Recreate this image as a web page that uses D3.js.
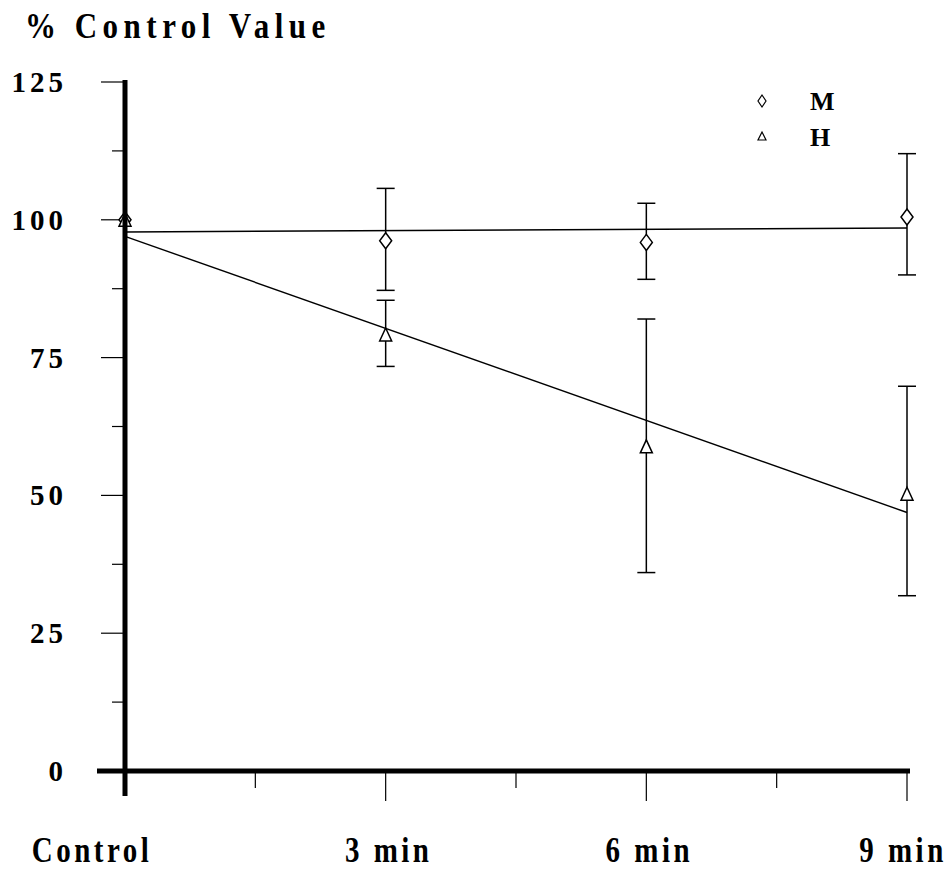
<!DOCTYPE html>
<html>
<head>
<meta charset="utf-8">
<script src="https://cdn.jsdelivr.net/npm/d3@7"></script>
<style>
  html, body { margin: 0; padding: 0; background: #fff; }
  svg { display: block; }
</style>
</head>
<body>
<svg id="chart" width="951" height="887"></svg>
<script>
// ---- data ----
const categories = ["Control", "3 min", "6 min", "9 min"];
const yTicks = [0, 25, 50, 75, 100, 125];
const yMinorTicks = [12.5, 37.5, 62.5, 87.5, 112.5];

const mMean = [100, 96.2, 95.9, 100.5];
const mLow  = [100, 87.2, 89.2, 90.0];
const mHigh = [100, 105.7, 103.0, 112.0];

const hMean = [100, 79.2, 58.9, 50.3];
const hLow  = [100, 73.4, 36.0, 31.8];
const hHigh = [100, 85.4, 82.0, 69.8];

// regression lines (value at Control and at 9 min)
const fitEnds = ["Control", "9 min"];
const mFit = [97.8, 98.5];
const hFit = [97.0, 46.9];

const legendLabels = ["M", "H"];

// ---- layout ----
const FONT = "'Liberation Serif', Tinos, 'Times New Roman', 'DejaVu Serif', serif";
const svg = d3.select("#chart");
const x = d3.scalePoint().domain(categories).range([125, 907]);
const y = d3.scaleLinear().domain([0, 125]).range([771, 82]);

function txt(sel, size, ls) {
  return sel.attr("font-family", FONT).attr("font-weight", "bold")
    .attr("font-size", size).attr("letter-spacing", ls).attr("fill", "#000");
}

// title
txt(svg.append("text").attr("transform", "translate(25,38) scale(1,1.13)"), 31, 5.5)
  .text("% Control Value");

// y tick labels
txt(svg.append("g").selectAll("text").data(yTicks).join("text"), 29, 4)
  .attr("transform", d => `translate(67,${y(d) + 10}) scale(1,1.05)`)
  .attr("text-anchor", "end")
  .text(d => d);

// y ticks
const yAxisG = svg.append("g");
yAxisG.selectAll("line.maj").data(yTicks).join("line").attr("class", "maj")
  .attr("x1", 101).attr("x2", 125).attr("y1", d => y(d)).attr("y2", d => y(d))
  .attr("stroke", "#000").attr("stroke-width", 1.2);
yAxisG.selectAll("line.min").data(yMinorTicks).join("line").attr("class", "min")
  .attr("x1", 112).attr("x2", 125).attr("y1", d => y(d)).attr("y2", d => y(d))
  .attr("stroke", "#000").attr("stroke-width", 1.2);

// x ticks
const xMinor = d3.pairs(categories).map(([a, b]) => (x(a) + x(b)) / 2);
svg.append("g").selectAll("line").data(categories.slice(1)).join("line")
  .attr("x1", d => x(d)).attr("x2", d => x(d)).attr("y1", 771).attr("y2", 801)
  .attr("stroke", "#000").attr("stroke-width", 1.2);
svg.append("g").selectAll("line").data(xMinor).join("line")
  .attr("x1", d => d).attr("x2", d => d).attr("y1", 771).attr("y2", 788)
  .attr("stroke", "#000").attr("stroke-width", 1.2);

// x labels
txt(svg.append("g").selectAll("text").data(categories).join("text"), 29, 3.5)
  .attr("transform", (d, i) => {
    const tx = i === 0 ? 92 : (i === 3 ? x(d) - 4 : x(d) + 3);
    return `translate(${tx},862) scale(1,1.22)`;
  })
  .attr("text-anchor", "middle")
  .text(d => d);

// regression lines
const fitLine = d3.line().x(d => x(d[0])).y(d => y(d[1]));
[mFit, hFit].forEach(f => {
  svg.append("path")
    .attr("d", fitLine(fitEnds.map((c, i) => [c, f[i]])))
    .attr("fill", "none").attr("stroke", "#000").attr("stroke-width", 1.4);
});

// error bars
function errorBars(low, high) {
  const g = svg.append("g").attr("stroke", "#000").attr("stroke-width", 1.5);
  categories.forEach((c, i) => {
    if (high[i] === low[i]) return;
    g.append("line").attr("x1", x(c)).attr("x2", x(c)).attr("y1", y(low[i])).attr("y2", y(high[i]));
    g.append("line").attr("x1", x(c) - 9).attr("x2", x(c) + 9).attr("y1", y(low[i])).attr("y2", y(low[i]));
    g.append("line").attr("x1", x(c) - 9).attr("x2", x(c) + 9).attr("y1", y(high[i])).attr("y2", y(high[i]));
  });
}
errorBars(mLow, mHigh);
errorBars(hLow, hHigh);

// markers
const diamondPath = (cx, cy, w, h) => `M${cx},${cy - h/2}L${cx + w/2},${cy}L${cx},${cy + h/2}L${cx - w/2},${cy}Z`;
const trianglePath = (cx, cy, w, h) => `M${cx},${cy - h/2}L${cx + w/2},${cy + h/2}L${cx - w/2},${cy + h/2}Z`;

svg.append("g").selectAll("path").data(categories).join("path")
  .attr("d", (c, i) => diamondPath(x(c), y(mMean[i]), 12, 16))
  .attr("fill", "#fff").attr("stroke", "#000").attr("stroke-width", 1.5);
svg.append("g").selectAll("path").data(categories).join("path")
  .attr("d", (c, i) => trianglePath(x(c), y(hMean[i]), 12, 13))
  .attr("fill", "#fff").attr("stroke", "#000").attr("stroke-width", 1.5);

// axes (thick)
svg.append("line").attr("x1", 125).attr("x2", 125).attr("y1", y(125) - 2).attr("y2", 796)
  .attr("stroke", "#000").attr("stroke-width", 5);
svg.append("line").attr("x1", 97).attr("x2", 910).attr("y1", y(0)).attr("y2", y(0))
  .attr("stroke", "#000").attr("stroke-width", 5);

// legend
const legend = svg.append("g");
legend.append("path").attr("d", diamondPath(762, 101, 8, 12))
  .attr("fill", "#fff").attr("stroke", "#000").attr("stroke-width", 1.2);
legend.append("path").attr("d", trianglePath(762, 136, 8, 8))
  .attr("fill", "#fff").attr("stroke", "#000").attr("stroke-width", 1.2);
txt(legend.selectAll("text").data(legendLabels).join("text"), 26, 0)
  .attr("x", 810).attr("y", (d, i) => 110 + i * 36)
  .text(d => d);
</script>
</body>
</html>
